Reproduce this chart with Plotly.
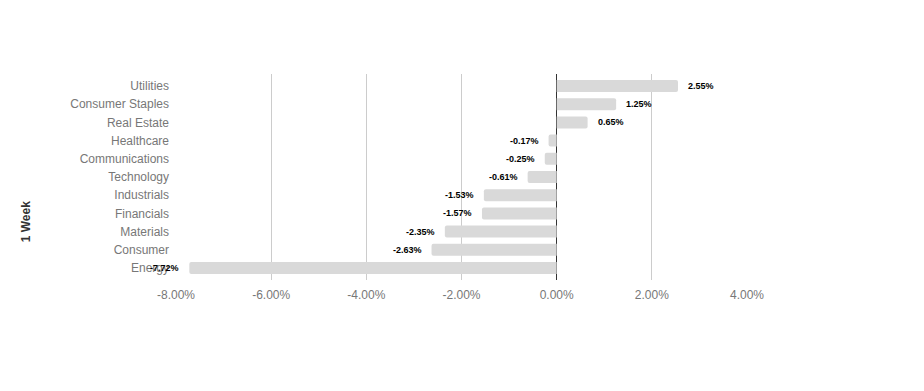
import plotly.graph_objects as go

sectors = ["Utilities", "Consumer Staples", "Real Estate", "Healthcare", "Communications",
           "Technology", "Industrials", "Financials", "Materials", "Consumer", "Energy"]
week_returns = [2.55, 1.25, 0.65, -0.17, -0.25, -0.61, -1.53, -1.57, -2.35, -2.63, -7.72]
tick_vals = [-8, -6, -4, -2, 0, 2, 4]
tick_text = ["-8.00%", "-6.00%", "-4.00%", "-2.00%", "0.00%", "2.00%", "4.00%"]

fig = go.Figure()
fig.add_trace(go.Bar(
    x=week_returns, y=sectors, orientation="h",
    marker=dict(color="#d9d9d9", line=dict(width=0)),
    width=0.66, hoverinfo="skip",
))

annotations = []
for s, v in zip(sectors, week_returns):
    annotations.append(dict(
        x=v, y=s, xref="x", yref="y", text=f"{v:.2f}%", showarrow=False,
        xanchor="left" if v >= 0 else "right", xshift=8 if v >= 0 else -8,
        font=dict(family="Arial, Liberation Sans", size=9, color="#000000", weight="bold"),
    ))
annotations.append(dict(text="<b>1 Week</b>", textangle=-90, xref="paper", yref="paper",
                        x=(26 - 176) / 571, y=0.28, xanchor="center", yanchor="middle",
                        showarrow=False,
                        font=dict(size=12, color="#333333", family="Arial, Liberation Sans")))

fig.update_layout(
    width=916, height=383,
    margin=dict(l=168, r=177, t=66, b=111),
    paper_bgcolor="white", plot_bgcolor="white",
    showlegend=False, barcornerradius=2,
    font=dict(family="Arial, Liberation Sans", color="#777777", size=12),
    xaxis=dict(range=[-8, 4], tickvals=tick_vals, ticktext=tick_text,
               showgrid=True, gridcolor="#cccccc", gridwidth=1,
               zeroline=True, zerolinecolor="#333333", zerolinewidth=1,
               showline=False, ticks="", ticklabelstandoff=6,
               tickfont=dict(size=12, color="#777777")),
    yaxis=dict(categoryorder="array", categoryarray=sectors,
               range=[10.66, -0.66], showgrid=False, zeroline=False,
               ticks="", ticklabelstandoff=6,
               tickfont=dict(size=12, color="#777777")),
    annotations=annotations,
)

fig.write_html("out.html")
